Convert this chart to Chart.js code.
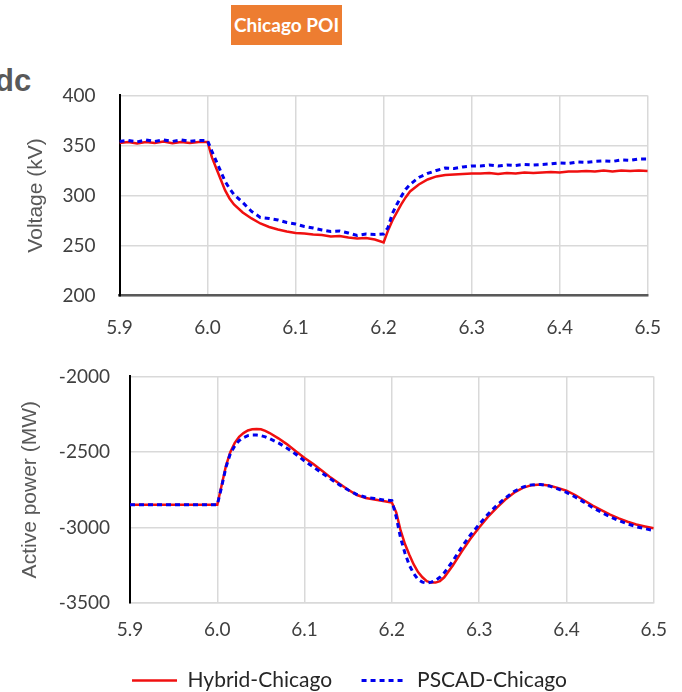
<!DOCTYPE html>
<html lang="en">
  <head>
    <meta charset="UTF-8" />
    <title>Chicago POI</title>
    <script src="https://cdn.jsdelivr.net/npm/chart.js"></script>
    <style>
      body {
        margin: 0;
        width: 682px;
        height: 692px;
        overflow: hidden;
        background: #fff;
        position: relative;
        font-family: "Lato", sans-serif;
      }
      .cut {
        position: absolute;
        left: -5px;
        top: 63px;
        font: bold 31px "Liberation Sans", Arial, sans-serif;
        color: #595959;
      }
      .title {
        position: absolute;
        left: 231px;
        top: 5px;
        width: 111px;
        height: 40px;
        line-height: 40px;
        background: #ed7d31;
        color: #fff;
        font-weight: bold;
        font-size: 19px;
        text-align: center;
      }
      canvas {
        position: absolute;
        left: 0;
      }
      #voltChart {
        top: 60px;
      }
      #powerChart {
        top: 345px;
      }
    </style>
  </head>
  <body>
    <div class="cut">dc</div>
    <div class="title">Chicago POI</div>
    <canvas id="voltChart" width="682" height="285"></canvas>
    <canvas id="powerChart" width="682" height="356"></canvas>

    <script>
      // voltage at the POI (kV)
      const timeV = [
        5.9, 5.91, 5.92, 5.93, 5.94, 5.95, 5.96, 5.97, 5.98, 5.99, 6.0,
        6.005, 6.01, 6.015, 6.02, 6.025, 6.03,
        6.04, 6.05, 6.06, 6.07, 6.08, 6.09, 6.1, 6.11, 6.12, 6.13, 6.14, 6.15, 6.16, 6.17, 6.18, 6.19, 6.2,
        6.205, 6.21, 6.215, 6.22, 6.225, 6.23,
        6.24, 6.25, 6.26, 6.27, 6.28, 6.29, 6.3,
        6.31, 6.32, 6.33, 6.34, 6.35, 6.36, 6.37, 6.38, 6.39, 6.4,
        6.41, 6.42, 6.43, 6.44, 6.45, 6.46, 6.47, 6.48, 6.49, 6.5,
      ];
      const hybridV = [
        352.5, 353.5, 352, 353.5, 352.5, 353.8, 352.3, 353.5, 352.5, 353.5, 353.5,
        338, 327, 316, 305, 297, 291,
        283, 277, 272, 268.5, 266, 264, 262.5, 262, 261, 260.5, 259, 259.5, 258, 257, 257.5, 256, 253,
        265, 275, 283, 291, 298, 304,
        311, 316, 319, 320.5, 321, 321.5, 322,
        322, 322.5, 321.5, 322.5, 322, 323, 322.5, 323, 323.5, 323,
        324, 324, 324.5, 324, 325, 324, 325, 324.5, 325, 324.5,
      ];
      const pscadV = [
        354, 355, 353.5, 355.5, 354, 355.5, 354, 355.5, 354, 355, 355,
        344, 334, 324, 314, 307, 301,
        293, 284, 278, 277, 275.5, 273, 271.5, 269, 267.5, 265.5, 264, 264.5, 262.5, 260, 261.5, 261, 261.5,
        268, 282, 291, 299, 306, 311,
        318, 322, 325, 327.5, 327, 328.5, 329.5,
        329.5, 330.5, 329.5, 330.5, 330, 331, 330.5, 331, 331.5, 332.5,
        332, 333.5, 333, 334, 334.5, 334, 335.5, 335, 336.5, 336.5,
      ];

      // active power at the POI (MW)
      const timeP = [
        5.9, 5.91, 5.92, 5.93, 5.94, 5.95, 5.96, 5.97, 5.98, 5.99, 6.0,
        6.005, 6.01, 6.015, 6.02, 6.025, 6.03, 6.035, 6.04, 6.045, 6.05, 6.055, 6.06,
        6.07, 6.08, 6.09, 6.1, 6.11, 6.12, 6.13, 6.14, 6.15, 6.16, 6.17, 6.18, 6.19, 6.2,
        6.205, 6.21, 6.215, 6.22, 6.225, 6.23, 6.235, 6.24, 6.245, 6.25, 6.255, 6.26,
        6.27, 6.28, 6.29, 6.3, 6.31, 6.32, 6.33, 6.34, 6.35, 6.36, 6.37, 6.38, 6.39, 6.4,
        6.41, 6.42, 6.43, 6.44, 6.45, 6.46, 6.47, 6.48, 6.49, 6.5,
      ];
      const hybridP = [
        -2850, -2850, -2850, -2850, -2850, -2850, -2850, -2850, -2850, -2850, -2850,
        -2720, -2590, -2500, -2440, -2400, -2375, -2358, -2350, -2348, -2350, -2360, -2375,
        -2410, -2450, -2495, -2540, -2580, -2625, -2670, -2710, -2750, -2785, -2805, -2815, -2825, -2835,
        -2900, -3020, -3110, -3180, -3245, -3295, -3330, -3355, -3365, -3365, -3355, -3330,
        -3250, -3160, -3075, -3000, -2930, -2870, -2815, -2770, -2738, -2720, -2715, -2722, -2738, -2757,
        -2785, -2820, -2855, -2885, -2915, -2940, -2962, -2980, -2993, -3005,
      ];
      const pscadP = [
        -2850, -2850, -2850, -2850, -2850, -2850, -2850, -2850, -2850, -2850, -2850,
        -2730, -2600, -2510, -2460, -2425, -2405, -2392, -2388, -2388, -2392, -2400, -2412,
        -2440, -2475, -2515, -2560, -2600, -2640, -2680, -2718, -2752, -2782, -2800, -2808, -2818, -2822,
        -2930, -3070, -3170, -3250, -3305, -3345, -3362, -3368, -3362, -3350, -3330, -3300,
        -3220, -3130, -3050, -2980, -2912, -2855, -2805, -2762, -2733, -2718, -2715, -2725, -2745, -2768,
        -2798, -2832, -2868, -2900, -2930, -2955, -2976, -2995, -3008, -3020,
      ];

      const xTicks = [5.9, 6.0, 6.1, 6.2, 6.3, 6.4, 6.5];

      Chart.defaults.font.family = "Lato";
      Chart.defaults.color = "#404040";

      const toPoints = (xs, ys) => xs.map((x, i) => ({ x: x, y: ys[i] }));

      const gridGray = "#d9d9d9";

      function xScale(height, padding, borderColor, borderWidth) {
        return {
          type: "linear",
          min: xTicks[0],
          max: xTicks[xTicks.length - 1],
          afterBuildTicks: (s) => {
            s.ticks = xTicks.map((v) => ({ value: v }));
          },
          afterFit: (s) => {
            s.height = height;
          },
          grid: { color: gridGray, lineWidth: 1.5, drawTicks: false },
          border: { color: borderColor, width: borderWidth },
          ticks: {
            padding: padding,
            maxRotation: 0,
            autoSkip: false,
            font: { size: 19 },
            callback: (v) => v.toFixed(1),
          },
        };
      }

      function pscadSet(xs, ys) {
        return {
          label: "PSCAD-Chicago",
          data: toPoints(xs, ys),
          borderColor: "#0000ee",
          backgroundColor: "#0000ee",
          borderWidth: 3,
          borderDash: [5, 4],
          pointRadius: 0,
          tension: 0,
        };
      }

      function hybridSet(xs, ys) {
        return {
          label: "Hybrid-Chicago",
          data: toPoints(xs, ys),
          borderColor: "#f01010",
          backgroundColor: "#f01010",
          borderWidth: 2.5,
          pointRadius: 0,
          tension: 0,
        };
      }

      new Chart(document.getElementById("voltChart"), {
        type: "line",
        data: {
          datasets: [pscadSet(timeV, pscadV), hybridSet(timeV, hybridV)],
        },
        options: {
          responsive: false,
          animation: false,
          layout: { padding: { top: 10, right: 19, left: 0, bottom: 0 } },
          plugins: { legend: { display: false }, tooltip: { enabled: false } },
          scales: {
            x: xScale(49.5, 21, "#595959", 2.5),
            y: {
              min: 200,
              max: 400,
              afterFit: (s) => {
                s.width = 119.5;
              },
              grid: { color: gridGray, lineWidth: 1.5, drawTicks: false },
              border: { color: "#000", width: 2 },
              ticks: { stepSize: 50, padding: 24, font: { size: 19 } },
              title: {
                display: true,
                text: "Voltage (kV)",
                color: "#595959",
                padding: { top: 24 },
                font: { family: "Liberation Sans", size: 21 },
              },
            },
          },
        },
      });

      new Chart(document.getElementById("powerChart"), {
        type: "line",
        data: {
          datasets: [pscadSet(timeP, pscadP), hybridSet(timeP, hybridP)],
        },
        options: {
          responsive: false,
          animation: false,
          layout: { padding: { top: 25, right: 17, left: 34, bottom: 0 } },
          plugins: {
            tooltip: { enabled: false },
            legend: {
              position: "bottom",
              reverse: true,
              labels: {
                usePointStyle: true,
                pointStyle: "line",
                pointStyleWidth: 45,
                padding: 29.5,
                color: "#262626",
                font: { size: 21 },
                // point style drops the line dash, so copy it back from the dataset
                generateLabels: (chart) =>
                  Chart.defaults.plugins.legend.labels
                    .generateLabels(chart)
                    .map((item) => {
                      const ds = chart.data.datasets[item.datasetIndex];
                      item.lineDash = ds.borderDash || [];
                      item.lineWidth = ds.borderWidth;
                      return item;
                    }),
              },
            },
          },
          scales: {
            x: xScale(37.5, 15, gridGray, 1.5),
            y: {
              min: -3500,
              max: -2000,
              afterFit: (s) => {
                s.width = 96;
              },
              grid: { color: gridGray, lineWidth: 1.5, drawTicks: false },
              border: { color: "#000", width: 2 },
              ticks: {
                stepSize: 500,
                padding: 20,
                font: { size: 19 },
                callback: (v) => String(v),
              },
              title: {
                display: true,
                text: "Active power (MW)",
                color: "#595959",
                padding: { top: -16.6 },
                font: { family: "Liberation Sans", size: 21 },
              },
            },
          },
        },
      });
    </script>
  </body>
</html>
